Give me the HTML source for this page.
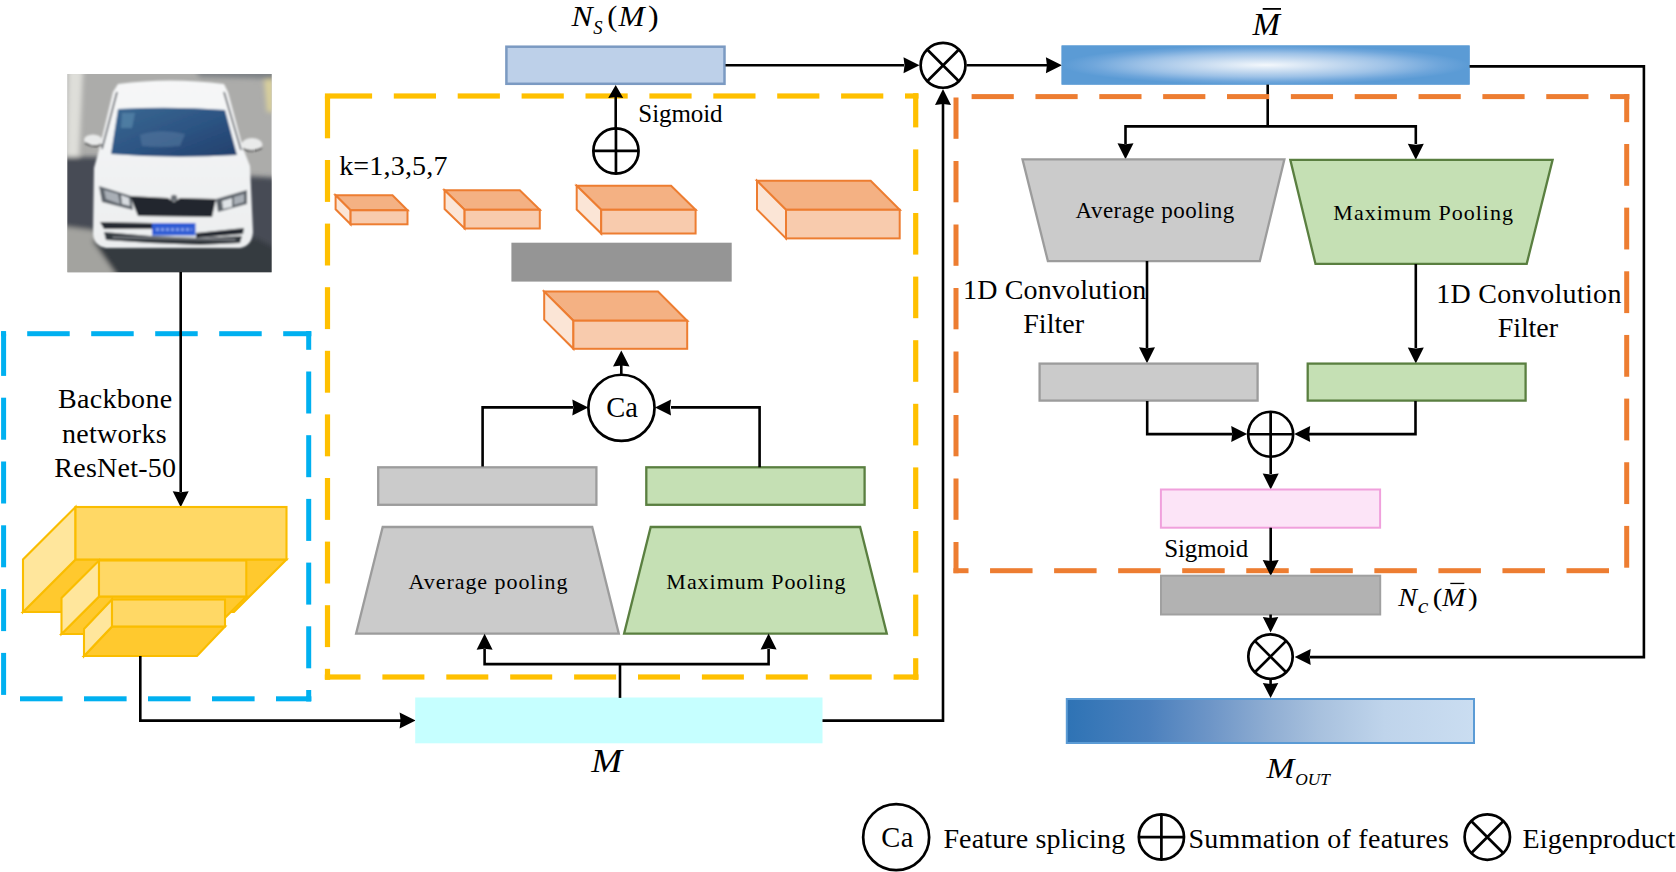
<!DOCTYPE html>
<html><head><meta charset="utf-8"><title>Diagram</title>
<style>html,body{margin:0;padding:0;background:#fff;}svg{display:block;}text{font-family:"Liberation Serif",serif;}</style>
</head><body>
<svg width="1676" height="872" viewBox="0 0 1676 872" font-family="Liberation Serif, serif">
<rect width="1676" height="872" fill="#fff"/>
<defs><clipPath id="cp"><rect x="67.4" y="74.1" width="204.2" height="198.1"/></clipPath><filter id="bl" x="-10%" y="-10%" width="120%" height="120%"><feGaussianBlur stdDeviation="0.9"/></filter><filter id="bl2" x="-20%" y="-20%" width="140%" height="140%"><feGaussianBlur stdDeviation="2.5"/></filter><linearGradient id="ws" x1="0" y1="0" x2="1" y2="1"><stop offset="0" stop-color="#3a6892"/><stop offset="0.5" stop-color="#2d5584"/><stop offset="1" stop-color="#223f6c"/></linearGradient><linearGradient id="hood" x1="0" y1="0" x2="0" y2="1"><stop offset="0" stop-color="#f6f7f8"/><stop offset="1" stop-color="#eceeef"/></linearGradient></defs>
<g clip-path="url(#cp)">
<rect x="67" y="74" width="206" height="199" fill="#acacaa"/>
<g filter="url(#bl2)">
<path d="M60 157 L110 157 L110 170 L200 170 L245 176 L280 178 L280 280 L60 280 Z" fill="#474c54"/>
<path d="M60 226 L92 230 L118 250 L140 280 L60 280 Z" fill="#a3a39f"/>
<path d="M68 70 L83 70 L79 157 L66 157 Z" fill="#deded9"/>
<path d="M264 80 L274 78 L274 112 L267 112 Z" fill="#d8cf9c"/>
<path d="M195 70 L280 70 L280 79 L200 77 Z" fill="#7c8084"/>
<path d="M92 240 L256 238 L280 250 L280 280 L120 280 Z" fill="#363a40"/>
</g>
<g filter="url(#bl)">
<path d="M118 84 Q170 77 224 84 L228 92 L243 148 L250 166 L253 232 Q252 246 240 248 L106 248 Q94 246 93 234 L94 168 L99 150 L113 92 Z" fill="url(#hood)"/>
<path d="M118 109 Q171 106 225 110 L237 155 Q172 159 111 154 Z" fill="url(#ws)"/>
<path d="M140 135 Q160 128 185 134 L180 146 Q160 148 142 146 Z" fill="#5b7da3" opacity="0.5"/>
<path d="M122 113 L135 113 L132 128 L121 128 Z" fill="#5f8db0" opacity="0.6"/>
<path d="M117 92 L102 149 M224 92 L241 150" stroke="#50555c" stroke-width="1.6" fill="none"/>
<ellipse cx="93" cy="140" rx="9" ry="5.5" fill="#e9eaea"/>
<path d="M85 143 Q93 148 102 145" stroke="#444" stroke-width="1.5" fill="none"/>
<ellipse cx="252" cy="144.5" rx="10.5" ry="6.5" fill="#e9eaea"/>
<path d="M243 149 Q252 153 262 148" stroke="#444" stroke-width="1.5" fill="none"/>
<path d="M99 186 L131 196 L133 210 L102 202 Z" fill="#5d636b"/>
<path d="M104 190 L118 194 L120 204 L106 199 Z" fill="#a9afb6"/>
<path d="M121 195 L129 198 L130 206 L122 204 Z" fill="#d8dce0"/>
<path d="M216 199 L247 190 L247 204 L218 212 Z" fill="#5d636b"/>
<path d="M222 201 L232 198 L232 207 L223 209 Z" fill="#dfe3e7"/>
<path d="M234 197 L244 194 L244 202 L234 205 Z" fill="#a9afb6"/>
<path d="M130 196 L168 198 L174 202 L180 198 L216 199 L212 217 L138 216 Z" fill="#24282f"/>
<circle cx="174" cy="198" r="3.2" fill="#6a6f76"/>
<path d="M100 222 L152 223 L152 229 L104 229 Z" fill="#272b31"/>
<path d="M196 233 L244 228 L243 234 L196 238 Z" fill="#272b31"/>
<path d="M104 232 L150 236 L200 238 L242 236 L240 243 L200 245 L150 243 L106 240 Z" fill="#33373e"/>
<path d="M112 236.5 L236 239 L235 240.5 L113 238 Z" fill="#9a9da2" opacity="0.8"/>
<rect x="152" y="223" width="43.5" height="12.5" fill="#2d5cd4"/>
<path d="M156 229.5 h36" stroke="#8ea8ee" stroke-width="2.5" stroke-dasharray="3 2"/>
</g>
</g>
<rect x="1.10" y="331.20" width="4.60" height="5" fill="#00B0F0"/>
<rect x="27.20" y="331.20" width="42.50" height="5" fill="#00B0F0"/>
<rect x="91.20" y="331.20" width="42.50" height="5" fill="#00B0F0"/>
<rect x="155.20" y="331.20" width="42.50" height="5" fill="#00B0F0"/>
<rect x="219.20" y="331.20" width="42.50" height="5" fill="#00B0F0"/>
<rect x="283.20" y="331.20" width="28.00" height="5" fill="#00B0F0"/>
<rect x="306.20" y="331.20" width="5" height="18.60" fill="#00B0F0"/>
<rect x="306.20" y="371.50" width="5" height="42.00" fill="#00B0F0"/>
<rect x="306.20" y="435.20" width="5" height="42.00" fill="#00B0F0"/>
<rect x="306.20" y="498.90" width="5" height="42.00" fill="#00B0F0"/>
<rect x="306.20" y="562.60" width="5" height="42.00" fill="#00B0F0"/>
<rect x="306.20" y="626.30" width="5" height="42.00" fill="#00B0F0"/>
<rect x="306.20" y="690.00" width="5" height="11.30" fill="#00B0F0"/>
<rect x="20.00" y="696.30" width="42.60" height="5" fill="#00B0F0"/>
<rect x="84.00" y="696.30" width="42.60" height="5" fill="#00B0F0"/>
<rect x="148.00" y="696.30" width="42.60" height="5" fill="#00B0F0"/>
<rect x="212.00" y="696.30" width="42.60" height="5" fill="#00B0F0"/>
<rect x="276.00" y="696.30" width="35.20" height="5" fill="#00B0F0"/>
<rect x="1.10" y="333.90" width="5" height="42.00" fill="#00B0F0"/>
<rect x="1.10" y="397.70" width="5" height="42.00" fill="#00B0F0"/>
<rect x="1.10" y="461.50" width="5" height="42.00" fill="#00B0F0"/>
<rect x="1.10" y="525.30" width="5" height="42.00" fill="#00B0F0"/>
<rect x="1.10" y="589.10" width="5" height="42.00" fill="#00B0F0"/>
<rect x="1.10" y="652.90" width="5" height="42.00" fill="#00B0F0"/>
<rect x="1.10" y="331.20" width="5" height="5" fill="#00B0F0"/>
<rect x="306.20" y="331.20" width="5" height="5" fill="#00B0F0"/>
<rect x="306.20" y="696.30" width="5" height="5" fill="#00B0F0"/>
<path d="M180.7 272.0 L180.7 492.0" fill="none" stroke="#000" stroke-width="2.6" stroke-linejoin="miter"/>
<path d="M172.7 491.3 L180.7 492.3 L188.7 491.3 L180.7 507.3Z" fill="#000"/>
<text x="58.09" y="408.40" font-size="28" letter-spacing="0.303" fill="#000">Backbone</text>
<text x="62.06" y="442.50" font-size="28" letter-spacing="0.272" fill="#000">networks</text>
<text x="54.29" y="476.50" font-size="28" letter-spacing="0.252" fill="#000">ResNet-50</text>
<path d="M75.5 559.5 L286.5 559.5 L234.0 612.0 L23.0 612.0Z" fill="#FFC92E" stroke="#FABD00" stroke-width="2.1" stroke-linejoin="miter"/>
<path d="M75.5 507.0 L75.5 559.5 L23.0 612.0 L23.0 559.5Z" fill="#FFE69C" stroke="#FABD00" stroke-width="2.1" stroke-linejoin="miter"/>
<rect x="75.5" y="507.0" width="211.0" height="52.5" fill="#FFD865" stroke="#FABD00" stroke-width="2.1"/>
<path d="M99.0 596.5 L246.3 596.5 L208.8 634.0 L61.5 634.0Z" fill="#FFC92E" stroke="#FABD00" stroke-width="2.1" stroke-linejoin="miter"/>
<path d="M99.0 560.5 L99.0 596.5 L61.5 634.0 L61.5 598.0Z" fill="#FFE69C" stroke="#FABD00" stroke-width="2.1" stroke-linejoin="miter"/>
<rect x="99.0" y="560.5" width="147.3" height="36.0" fill="#FFD865" stroke="#FABD00" stroke-width="2.1"/>
<path d="M112.0 626.5 L225.0 626.5 L197.0 656.0 L84.0 656.0Z" fill="#FFC92E" stroke="#FABD00" stroke-width="2.1" stroke-linejoin="miter"/>
<path d="M112.0 599.5 L112.0 626.5 L84.0 656.0 L84.0 629.0Z" fill="#FFE69C" stroke="#FABD00" stroke-width="2.1" stroke-linejoin="miter"/>
<rect x="112.0" y="599.5" width="113.0" height="27.0" fill="#FFD865" stroke="#FABD00" stroke-width="2.1"/>
<path d="M140.3 656.0 L140.3 720.6 L401.0 720.6" fill="none" stroke="#000" stroke-width="2.6" stroke-linejoin="miter"/>
<path d="M399.6 712.6 L400.6 720.6 L399.6 728.6 L415.6 720.6Z" fill="#000"/>
<rect x="415.2" y="697.5" width="407.3" height="45.8" fill="#C6FFFF"/>
<text transform="translate(590.80 771.80) scale(1.1156 1)" x="0.40" y="0" font-size="33.3" font-style="italic" fill="#000">M</text>
<rect x="329.90" y="93.40" width="42.20" height="5.2" fill="#FFC000"/>
<rect x="393.80" y="93.40" width="42.20" height="5.2" fill="#FFC000"/>
<rect x="457.70" y="93.40" width="42.20" height="5.2" fill="#FFC000"/>
<rect x="521.60" y="93.40" width="42.20" height="5.2" fill="#FFC000"/>
<rect x="585.50" y="93.40" width="42.20" height="5.2" fill="#FFC000"/>
<rect x="649.40" y="93.40" width="42.20" height="5.2" fill="#FFC000"/>
<rect x="713.30" y="93.40" width="42.20" height="5.2" fill="#FFC000"/>
<rect x="777.20" y="93.40" width="42.20" height="5.2" fill="#FFC000"/>
<rect x="841.10" y="93.40" width="42.20" height="5.2" fill="#FFC000"/>
<rect x="905.00" y="93.40" width="13.30" height="5.2" fill="#FFC000"/>
<rect x="913.10" y="93.40" width="5.2" height="34.00" fill="#FFC000"/>
<rect x="913.10" y="149.40" width="5.2" height="41.60" fill="#FFC000"/>
<rect x="913.10" y="213.00" width="5.2" height="41.60" fill="#FFC000"/>
<rect x="913.10" y="276.60" width="5.2" height="41.60" fill="#FFC000"/>
<rect x="913.10" y="340.20" width="5.2" height="41.60" fill="#FFC000"/>
<rect x="913.10" y="403.80" width="5.2" height="41.60" fill="#FFC000"/>
<rect x="913.10" y="467.40" width="5.2" height="41.60" fill="#FFC000"/>
<rect x="913.10" y="531.00" width="5.2" height="41.60" fill="#FFC000"/>
<rect x="913.10" y="594.60" width="5.2" height="41.60" fill="#FFC000"/>
<rect x="913.10" y="658.20" width="5.2" height="21.40" fill="#FFC000"/>
<rect x="324.90" y="674.40" width="35.60" height="5.2" fill="#FFC000"/>
<rect x="382.40" y="674.40" width="42.00" height="5.2" fill="#FFC000"/>
<rect x="446.30" y="674.40" width="42.00" height="5.2" fill="#FFC000"/>
<rect x="510.20" y="674.40" width="42.00" height="5.2" fill="#FFC000"/>
<rect x="574.10" y="674.40" width="42.00" height="5.2" fill="#FFC000"/>
<rect x="638.00" y="674.40" width="42.00" height="5.2" fill="#FFC000"/>
<rect x="701.90" y="674.40" width="42.00" height="5.2" fill="#FFC000"/>
<rect x="765.80" y="674.40" width="42.00" height="5.2" fill="#FFC000"/>
<rect x="829.70" y="674.40" width="42.00" height="5.2" fill="#FFC000"/>
<rect x="893.60" y="674.40" width="24.70" height="5.2" fill="#FFC000"/>
<rect x="324.90" y="96.40" width="5.2" height="41.90" fill="#FFC000"/>
<rect x="324.90" y="160.00" width="5.2" height="41.90" fill="#FFC000"/>
<rect x="324.90" y="223.60" width="5.2" height="41.90" fill="#FFC000"/>
<rect x="324.90" y="287.20" width="5.2" height="41.90" fill="#FFC000"/>
<rect x="324.90" y="350.80" width="5.2" height="41.90" fill="#FFC000"/>
<rect x="324.90" y="414.40" width="5.2" height="41.90" fill="#FFC000"/>
<rect x="324.90" y="478.00" width="5.2" height="41.90" fill="#FFC000"/>
<rect x="324.90" y="541.60" width="5.2" height="41.90" fill="#FFC000"/>
<rect x="324.90" y="605.20" width="5.2" height="41.90" fill="#FFC000"/>
<rect x="324.90" y="668.80" width="5.2" height="10.80" fill="#FFC000"/>
<rect x="324.90" y="93.40" width="5.2" height="5.2" fill="#FFC000"/>
<rect x="913.10" y="93.40" width="5.2" height="5.2" fill="#FFC000"/>
<rect x="913.10" y="674.40" width="5.2" height="5.2" fill="#FFC000"/>
<rect x="324.90" y="674.40" width="5.2" height="5.2" fill="#FFC000"/>
<path d="M382.7 527.0 L592.2 527.0 L618.8 633.7 L356.1 633.7Z" fill="#CBCBCB" stroke="#9C9C9C" stroke-width="2.3" stroke-linejoin="miter"/>
<path d="M650.7 527.0 L860.1 527.0 L886.8 633.6 L624.1 633.6Z" fill="#C5E0B4" stroke="#5A7F40" stroke-width="2.3" stroke-linejoin="miter"/>
<text x="408.58" y="588.60" font-size="22" letter-spacing="0.946" fill="#000">Average pooling</text>
<text x="666.36" y="588.80" font-size="22" letter-spacing="0.960" fill="#000">Maximum Pooling</text>
<path d="M620.0 697.9 L620.0 664.1" fill="none" stroke="#000" stroke-width="2.6" stroke-linejoin="miter"/>
<path d="M484.6 649.0 L484.6 664.1 L768.6 664.1 L768.6 649.0" fill="none" stroke="#000" stroke-width="2.6" stroke-linejoin="miter"/>
<path d="M476.6 649.7 L484.6 648.7 L492.6 649.7 L484.6 633.7Z" fill="#000"/>
<path d="M760.6 649.6 L768.6 648.6 L776.6 649.6 L768.6 633.6Z" fill="#000"/>
<rect x="378.2" y="467.3" width="218.2" height="37.5" fill="#CBCBCB" stroke="#9C9C9C" stroke-width="2.3"/>
<rect x="646.3" y="467.3" width="218.3" height="37.5" fill="#C5E0B4" stroke="#5A7F40" stroke-width="2.3"/>
<path d="M482.6 466.6 L482.6 407.4 L573.0 407.4" fill="none" stroke="#000" stroke-width="2.6" stroke-linejoin="miter"/>
<path d="M759.6 467.2 L759.6 407.4 L671.0 407.4" fill="none" stroke="#000" stroke-width="2.6" stroke-linejoin="miter"/>
<path d="M572.3 399.4 L573.3 407.4 L572.3 415.4 L588.3 407.4Z" fill="#000"/>
<path d="M671.0 399.4 L670.0 407.4 L671.0 415.4 L655.0 407.4Z" fill="#000"/>
<circle cx="621.45" cy="407.85" r="33.1" fill="#fff" stroke="#000" stroke-width="2.7"/>
<text x="606.33" y="416.90" font-size="28.5" letter-spacing="0.004" fill="#000">Ca</text>
<path d="M621.3 375.0 L621.3 364.0" fill="none" stroke="#000" stroke-width="2.6" stroke-linejoin="miter"/>
<path d="M613.0 366.6 L621.3 365.6 L629.5 366.6 L621.3 350.6Z" fill="#000"/>
<path d="M573.4 320.7 L687.2 320.7 L658.0 291.6 L544.2 291.6Z" fill="#F4B183" stroke="#ED7D31" stroke-width="2" stroke-linejoin="miter"/>
<path d="M544.2 291.6 L573.4 320.7 L573.4 348.8 L544.2 319.7Z" fill="#FBE5D6" stroke="#ED7D31" stroke-width="2" stroke-linejoin="miter"/>
<rect x="573.4" y="320.7" width="113.8" height="28.1" fill="#F8CBAD" stroke="#ED7D31" stroke-width="2"/>
<rect x="511.4" y="242.7" width="220.3" height="38.9" fill="#959595"/>
<path d="M350.6 210.3 L407.5 210.3 L392.5 195.3 L335.6 195.3Z" fill="#F4B183" stroke="#ED7D31" stroke-width="2" stroke-linejoin="miter"/>
<path d="M335.6 195.3 L350.6 210.3 L350.6 224.3 L335.6 209.3Z" fill="#FBE5D6" stroke="#ED7D31" stroke-width="2" stroke-linejoin="miter"/>
<rect x="350.6" y="210.3" width="56.9" height="14.0" fill="#F8CBAD" stroke="#ED7D31" stroke-width="2"/>
<path d="M464.6 209.8 L539.8 209.8 L519.8 190.3 L444.6 190.3Z" fill="#F4B183" stroke="#ED7D31" stroke-width="2" stroke-linejoin="miter"/>
<path d="M444.6 190.3 L464.6 209.8 L464.6 228.5 L444.6 209.0Z" fill="#FBE5D6" stroke="#ED7D31" stroke-width="2" stroke-linejoin="miter"/>
<rect x="464.6" y="209.8" width="75.2" height="18.7" fill="#F8CBAD" stroke="#ED7D31" stroke-width="2"/>
<path d="M601.2 209.8 L695.6 209.8 L671.1 185.8 L576.7 185.8Z" fill="#F4B183" stroke="#ED7D31" stroke-width="2" stroke-linejoin="miter"/>
<path d="M576.7 185.8 L601.2 209.8 L601.2 233.5 L576.7 209.5Z" fill="#FBE5D6" stroke="#ED7D31" stroke-width="2" stroke-linejoin="miter"/>
<rect x="601.2" y="209.8" width="94.4" height="23.7" fill="#F8CBAD" stroke="#ED7D31" stroke-width="2"/>
<path d="M786.0 209.8 L899.7 209.8 L870.7 180.8 L757.0 180.8Z" fill="#F4B183" stroke="#ED7D31" stroke-width="2" stroke-linejoin="miter"/>
<path d="M757.0 180.8 L786.0 209.8 L786.0 238.4 L757.0 209.4Z" fill="#FBE5D6" stroke="#ED7D31" stroke-width="2" stroke-linejoin="miter"/>
<rect x="786.0" y="209.8" width="113.7" height="28.6" fill="#F8CBAD" stroke="#ED7D31" stroke-width="2"/>
<text x="339.17" y="174.90" font-size="28" letter-spacing="0.194" fill="#000">k=1,3,5,7</text>
<circle cx="615.95" cy="150.95" r="22.6" fill="#fff" stroke="#000" stroke-width="2.7"/>
<path d="M593.35 150.95 L638.5500000000001 150.95 M615.95 128.35 L615.95 173.54999999999998" stroke="#000" stroke-width="2.7"/>
<path d="M615.7 128.6 L615.7 97.0" fill="none" stroke="#000" stroke-width="2.6" stroke-linejoin="miter"/>
<path d="M608.2 98.0 L615.7 97.0 L623.2 98.0 L615.7 85.0Z" fill="#000"/>
<text x="638.33" y="121.70" font-size="25" letter-spacing="-0.079" fill="#000">Sigmoid</text>
<rect x="506.4" y="46.7" width="218.1" height="37.1" fill="#BDD0E9" stroke="#7B9AC2" stroke-width="2.5"/>
<text transform="translate(571.20 25.90) scale(1.0602 1)" x="0.21" y="0" font-size="30" font-style="italic" fill="#000">N</text>
<text transform="translate(593.50 33.90) scale(1.0358 1)" x="-0.22" y="0" font-size="18" font-style="italic" fill="#000">S</text>
<text transform="translate(608.60 25.90) scale(1.0466 1)" x="-1.28" y="0" font-size="29" fill="#000">(</text>
<text transform="translate(618.10 25.90) scale(1.0438 1)" x="0.36" y="0" font-size="30" font-style="italic" fill="#000">M</text>
<text transform="translate(648.90 25.90) scale(1.1002 1)" x="-0.93" y="0" font-size="29" fill="#000">)</text>
<path d="M725.5 65.3 L904.0 65.3" fill="none" stroke="#000" stroke-width="2.6" stroke-linejoin="miter"/>
<path d="M903.5 57.3 L904.5 65.3 L903.5 73.3 L919.5 65.3Z" fill="#000"/>
<circle cx="943.05" cy="65.35" r="22.4" fill="#fff" stroke="#000" stroke-width="2.7"/>
<path d="M927.2 49.5 L958.9 81.2 M958.9 49.5 L927.2 81.2" stroke="#000" stroke-width="2.7"/>
<path d="M966.7 65.3 L1047.0 65.3" fill="none" stroke="#000" stroke-width="2.6" stroke-linejoin="miter"/>
<path d="M1045.9 57.3 L1046.9 65.3 L1045.9 73.3 L1061.9 65.3Z" fill="#000"/>
<path d="M822.5 720.6 L943.0 720.6 L943.0 104.0" fill="none" stroke="#000" stroke-width="2.6" stroke-linejoin="miter"/>
<path d="M935.0 104.9 L943.0 103.9 L951.0 104.9 L943.0 88.9Z" fill="#000"/>
<defs><radialGradient id="mg" cx="0.5" cy="0.5" r="0.5" gradientUnits="objectBoundingBox"><stop offset="0" stop-color="#F4F8FC"/><stop offset="0.3" stop-color="#CADDF1"/><stop offset="0.6" stop-color="#9EC2E7"/><stop offset="0.85" stop-color="#6FA6DB"/><stop offset="1" stop-color="#5B9BD5"/></radialGradient><linearGradient id="og" x1="0" y1="0" x2="1" y2="0"><stop offset="0" stop-color="#2E73B5"/><stop offset="0.2" stop-color="#4B80BD"/><stop offset="0.35" stop-color="#6D95C7"/><stop offset="0.5" stop-color="#90AED3"/><stop offset="0.62" stop-color="#A8C1DE"/><stop offset="0.78" stop-color="#BFD4EB"/><stop offset="1" stop-color="#CADDF1"/></linearGradient></defs>
<rect x="1061.6" y="45.5" width="408.0" height="39.1" fill="#5B9BD5"/>
<rect x="1061.6" y="45.5" width="408" height="39.1" fill="url(#mg)"/>
<text transform="translate(1252.10 34.60) scale(1.0713 1)" x="0.37" y="0" font-size="30.8" font-style="italic" fill="#000">M</text>
<rect x="1262.7" y="8.0" width="18.3" height="1.8" fill="#000"/>
<path d="M1469.6 66.4 L1643.9 66.4 L1643.9 657.1 L1310.0 657.1" fill="none" stroke="#000" stroke-width="2.6" stroke-linejoin="miter"/>
<path d="M1310.7 649.1 L1309.7 657.1 L1310.7 665.1 L1294.7 657.1Z" fill="#000"/>
<path d="M1267.7 84.6 L1267.7 126.4" fill="none" stroke="#000" stroke-width="2.6" stroke-linejoin="miter"/>
<path d="M1125.5 144.0 L1125.5 126.4 L1415.8 126.4 L1415.8 144.0" fill="none" stroke="#000" stroke-width="2.6" stroke-linejoin="miter"/>
<path d="M1117.5 143.3 L1125.5 144.3 L1133.5 143.3 L1125.5 159.3Z" fill="#000"/>
<path d="M1407.8 143.8 L1415.8 144.8 L1423.8 143.8 L1415.8 159.8Z" fill="#000"/>
<rect x="971.60" y="94.10" width="42.20" height="5" fill="#ED7D31"/>
<rect x="1035.45" y="94.10" width="42.20" height="5" fill="#ED7D31"/>
<rect x="1099.30" y="94.10" width="42.20" height="5" fill="#ED7D31"/>
<rect x="1163.15" y="94.10" width="42.20" height="5" fill="#ED7D31"/>
<rect x="1227.00" y="94.10" width="42.20" height="5" fill="#ED7D31"/>
<rect x="1290.85" y="94.10" width="42.20" height="5" fill="#ED7D31"/>
<rect x="1354.70" y="94.10" width="42.20" height="5" fill="#ED7D31"/>
<rect x="1418.55" y="94.10" width="42.20" height="5" fill="#ED7D31"/>
<rect x="1482.40" y="94.10" width="42.20" height="5" fill="#ED7D31"/>
<rect x="1546.25" y="94.10" width="42.20" height="5" fill="#ED7D31"/>
<rect x="1610.10" y="94.10" width="19.10" height="5" fill="#ED7D31"/>
<rect x="1624.20" y="94.10" width="5" height="28.05" fill="#ED7D31"/>
<rect x="1624.20" y="144.00" width="5" height="41.80" fill="#ED7D31"/>
<rect x="1624.20" y="207.65" width="5" height="41.80" fill="#ED7D31"/>
<rect x="1624.20" y="271.30" width="5" height="41.80" fill="#ED7D31"/>
<rect x="1624.20" y="334.95" width="5" height="41.80" fill="#ED7D31"/>
<rect x="1624.20" y="398.60" width="5" height="41.80" fill="#ED7D31"/>
<rect x="1624.20" y="462.25" width="5" height="41.80" fill="#ED7D31"/>
<rect x="1624.20" y="525.90" width="5" height="41.80" fill="#ED7D31"/>
<rect x="953.50" y="568.20" width="15.00" height="5" fill="#ED7D31"/>
<rect x="990.05" y="568.20" width="42.50" height="5" fill="#ED7D31"/>
<rect x="1054.10" y="568.20" width="42.50" height="5" fill="#ED7D31"/>
<rect x="1118.15" y="568.20" width="42.50" height="5" fill="#ED7D31"/>
<rect x="1182.20" y="568.20" width="42.50" height="5" fill="#ED7D31"/>
<rect x="1246.25" y="568.20" width="42.50" height="5" fill="#ED7D31"/>
<rect x="1310.30" y="568.20" width="42.50" height="5" fill="#ED7D31"/>
<rect x="1374.35" y="568.20" width="42.50" height="5" fill="#ED7D31"/>
<rect x="1438.40" y="568.20" width="42.50" height="5" fill="#ED7D31"/>
<rect x="1502.45" y="568.20" width="42.50" height="5" fill="#ED7D31"/>
<rect x="1566.50" y="568.20" width="42.50" height="5" fill="#ED7D31"/>
<rect x="953.50" y="97.50" width="5" height="41.30" fill="#ED7D31"/>
<rect x="953.50" y="161.00" width="5" height="41.30" fill="#ED7D31"/>
<rect x="953.50" y="224.50" width="5" height="41.30" fill="#ED7D31"/>
<rect x="953.50" y="288.00" width="5" height="41.30" fill="#ED7D31"/>
<rect x="953.50" y="351.50" width="5" height="41.30" fill="#ED7D31"/>
<rect x="953.50" y="415.00" width="5" height="41.30" fill="#ED7D31"/>
<rect x="953.50" y="478.50" width="5" height="41.30" fill="#ED7D31"/>
<rect x="953.50" y="542.00" width="5" height="31.20" fill="#ED7D31"/>
<rect x="1624.20" y="94.10" width="5" height="5" fill="#ED7D31"/>
<path d="M1022.5 159.3 L1284.4 159.3 L1259.8 261.1 L1047.9 261.1Z" fill="#CBCBCB" stroke="#9C9C9C" stroke-width="2.3" stroke-linejoin="miter"/>
<path d="M1290.3 159.8 L1552.6 159.8 L1526.7 263.9 L1315.5 263.9Z" fill="#C5E0B4" stroke="#5A7F40" stroke-width="2.3" stroke-linejoin="miter"/>
<text x="1075.57" y="218.00" font-size="23" letter-spacing="0.468" fill="#000">Average pooling</text>
<text x="1333.36" y="219.70" font-size="22" letter-spacing="0.996" fill="#000">Maximum Pooling</text>
<path d="M1147.0 261.0 L1147.0 348.0" fill="none" stroke="#000" stroke-width="2.6" stroke-linejoin="miter"/>
<path d="M1139.0 347.3 L1147.0 348.3 L1155.0 347.3 L1147.0 363.3Z" fill="#000"/>
<path d="M1415.8 264.0 L1415.8 348.0" fill="none" stroke="#000" stroke-width="2.6" stroke-linejoin="miter"/>
<path d="M1407.8 347.5 L1415.8 348.5 L1423.8 347.5 L1415.8 363.5Z" fill="#000"/>
<text x="963.04" y="298.90" font-size="28" letter-spacing="0.157" fill="#000">1D Convolution</text>
<text x="1023.19" y="333.00" font-size="28" letter-spacing="0.063" fill="#000">Filter</text>
<text x="1436.14" y="303.10" font-size="28" letter-spacing="0.311" fill="#000">1D Convolution</text>
<text x="1497.69" y="336.80" font-size="28" letter-spacing="-0.077" fill="#000">Filter</text>
<rect x="1039.6" y="363.6" width="218.0" height="37.0" fill="#CBCBCB" stroke="#9C9C9C" stroke-width="2.3"/>
<rect x="1307.7" y="363.6" width="217.9" height="37.0" fill="#C5E0B4" stroke="#5A7F40" stroke-width="2.3"/>
<path d="M1147.2 401.0 L1147.2 434.1 L1232.0 434.1" fill="none" stroke="#000" stroke-width="2.6" stroke-linejoin="miter"/>
<path d="M1231.2 426.1 L1232.2 434.1 L1231.2 442.1 L1247.2 434.1Z" fill="#000"/>
<path d="M1415.5 401.0 L1415.5 434.1 L1309.0 434.1" fill="none" stroke="#000" stroke-width="2.6" stroke-linejoin="miter"/>
<path d="M1310.2 426.1 L1309.2 434.1 L1310.2 442.1 L1294.2 434.1Z" fill="#000"/>
<circle cx="1270.65" cy="434.25" r="22.5" fill="#fff" stroke="#000" stroke-width="2.7"/>
<path d="M1248.15 434.25 L1293.15 434.25 M1270.65 411.75 L1270.65 456.75" stroke="#000" stroke-width="2.7"/>
<path d="M1270.7 456.0 L1270.7 474.0" fill="none" stroke="#000" stroke-width="2.6" stroke-linejoin="miter"/>
<path d="M1262.7 473.5 L1270.7 474.5 L1278.7 473.5 L1270.7 489.5Z" fill="#000"/>
<rect x="1160.9" y="489.5" width="219.2" height="38.2" fill="#FCE4F7" stroke="#F0A0DC" stroke-width="2"/>
<text x="1164.23" y="556.90" font-size="25" letter-spacing="-0.129" fill="#000">Sigmoid</text>
<path d="M1270.7 527.7 L1270.7 561.0" fill="none" stroke="#000" stroke-width="2.6" stroke-linejoin="miter"/>
<path d="M1262.7 560.0 L1270.7 561.0 L1278.7 560.0 L1270.7 576.0Z" fill="#000"/>
<rect x="1161.0" y="575.7" width="219.2" height="38.8" fill="#B2B2B2" stroke="#A0A0A0" stroke-width="2"/>
<text transform="translate(1398.00 606.00) scale(1.0844 1)" x="0.18" y="0" font-size="26" font-style="italic" fill="#000">N</text>
<text transform="translate(1418.60 612.70) scale(1.1372 1)" x="-0.65" y="0" font-size="21" font-style="italic" fill="#000">c</text>
<text transform="translate(1433.90 606.00) scale(1.1336 1)" x="-1.12" y="0" font-size="25.4" fill="#000">(</text>
<text transform="translate(1441.90 606.00) scale(1.0576 1)" x="0.31" y="0" font-size="26" font-style="italic" fill="#000">M</text>
<rect x="1450.3" y="582.8" width="14.0" height="1.3" fill="#000"/>
<text transform="translate(1469.00 606.00) scale(1.1489 1)" x="-0.81" y="0" font-size="25.4" fill="#000">)</text>
<path d="M1270.6 614.5 L1270.6 620.0" fill="none" stroke="#000" stroke-width="2.6" stroke-linejoin="miter"/>
<path d="M1262.8 617.1 L1270.6 618.1 L1278.3 617.1 L1270.6 632.6Z" fill="#000"/>
<circle cx="1270.5" cy="656.6" r="22.2" fill="#fff" stroke="#000" stroke-width="2.7"/>
<path d="M1254.8 640.9 L1286.2 672.3 M1286.2 640.9 L1254.8 672.3" stroke="#000" stroke-width="2.7"/>
<path d="M1270.6 679.0 L1270.6 685.0" fill="none" stroke="#000" stroke-width="2.6" stroke-linejoin="miter"/>
<path d="M1262.8 683.0 L1270.6 684.0 L1278.3 683.0 L1270.6 698.0Z" fill="#000"/>
<rect x="1066.8" y="699.0" width="407.2" height="44.0" fill="url(#og)" stroke="#5B9BD5" stroke-width="2"/>
<text transform="translate(1266.00 777.80) scale(1.1654 1)" x="0.34" y="0" font-size="28.7" font-style="italic" fill="#000">M</text>
<text transform="translate(1296.10 784.70) scale(1.0926 1)" x="-0.80" y="0" font-size="15.9" font-style="italic" fill="#000">OUT</text>
<circle cx="896.15" cy="837.2" r="33.0" fill="#fff" stroke="#000" stroke-width="2.7"/>
<text x="881.13" y="847.20" font-size="28.5" letter-spacing="0.704" fill="#000">Ca</text>
<text x="943.39" y="847.60" font-size="28" letter-spacing="0.142" fill="#000">Feature splicing</text>
<circle cx="1161.4" cy="837.05" r="22.6" fill="#fff" stroke="#000" stroke-width="2.7"/>
<path d="M1138.8000000000002 837.05 L1184.0 837.05 M1161.4 814.4499999999999 L1161.4 859.65" stroke="#000" stroke-width="2.7"/>
<text x="1188.52" y="847.60" font-size="28" letter-spacing="0.262" fill="#000">Summation of features</text>
<circle cx="1487.3" cy="837.1" r="22.7" fill="#fff" stroke="#000" stroke-width="2.7"/>
<path d="M1471.2 821.0 L1503.4 853.2 M1503.4 821.0 L1471.2 853.2" stroke="#000" stroke-width="2.7"/>
<text x="1522.49" y="847.60" font-size="28" letter-spacing="0.168" fill="#000">Eigenproduct</text>
</svg>
</body></html>
